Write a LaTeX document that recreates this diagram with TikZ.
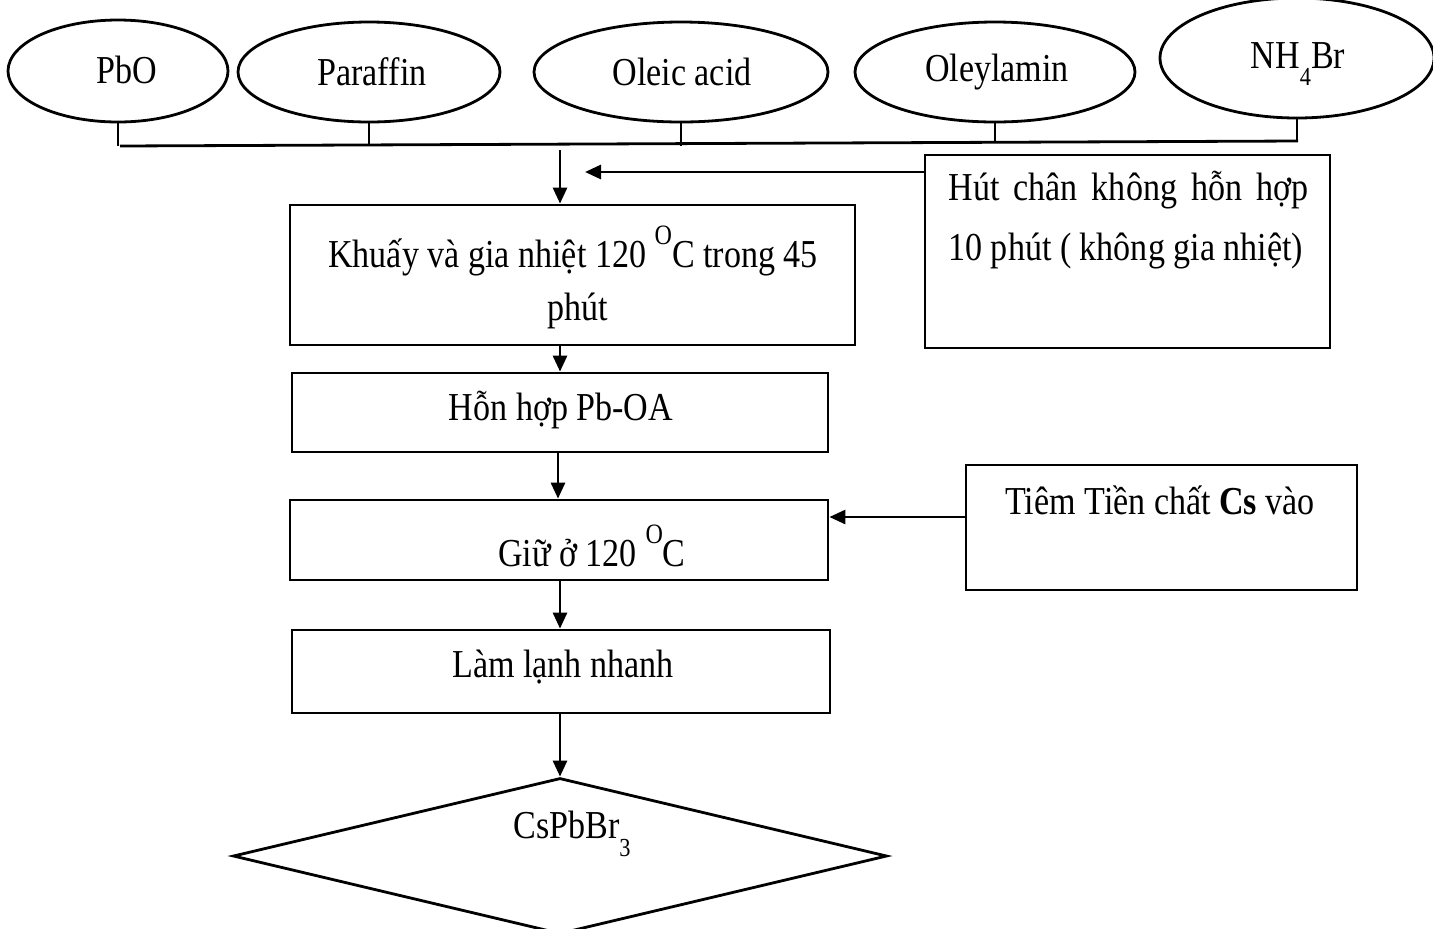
\documentclass[tikz,border=0pt]{standalone}
\usepackage{fontspec}
\setmainfont{Liberation Serif}[FakeStretch=0.86]
\usetikzlibrary{arrows.meta,shapes.geometric,fit}
\begin{document}
\begin{tikzpicture}[x=0.5pt,y=-0.5pt,
  line width=1.4pt,
  font=\fontsize{19.8}{30}\selectfont,
  reagent/.style={draw,ellipse,inner sep=0pt},
  stepbox/.style={draw,rectangle,inner sep=0pt},
  txt/.style={inner sep=0pt,align=center},
  arr/.style={-{Triangle[length=8pt,width=7pt]}}]
\clip (0,0) rectangle (1433,928);
\useasboundingbox (0,0) rectangle (1433,928);

% starting materials
\node[reagent,minimum width=110pt,minimum height=51pt] (pbo) at (118,71) {};
\node[reagent,minimum width=131pt,minimum height=50pt] (par) at (369,72) {};
\node[reagent,minimum width=147pt,minimum height=50pt] (ole) at (681,72) {};
\node[reagent,minimum width=140pt,minimum height=50pt] (oam) at (995,72) {};
\node[reagent,minimum width=137pt,minimum height=60pt] (nh) at (1297,58) {};
\node[txt] (tpbo) at (127,70) {PbO};
\node[txt] (tpar) at (372,72) {Paraffin};
\node[txt] (tole) at (682,72) {Oleic acid};
\node[txt] (toam) at (997,72) {Oleylamin};
\node[txt] (tnh) at (1298,64) {NH\raisebox{-0.9ex}{\fontsize{13}{14}\selectfont 4}Br};

% collecting line
\coordinate (jl) at (120,146);
\coordinate (jr) at (1298,141);
\draw (pbo.south) -- (pbo.south |- jl);
\draw (par.south) -- (par.south |- jl);
\draw (ole.south) -- (ole.south |- jl);
\draw (oam.south) -- (oam.south |- jr);
\draw (nh.south) -- (nh.south |- jr);
\draw (jl) -- (jr);
\coordinate (jm) at (560,150);

% process steps
\node[stepbox,fit={(290,205)(855,345)}] (stir) {};
\node[txt] (tstir1) at (573,251) {Khuấy và gia nhiệt 120 \raisebox{1.3ex}{\fontsize{14}{15}\selectfont O}C trong 45};
\node[txt] (tstir2) at (578,311) {phút};

\node[stepbox,fit={(925,155)(1330,348)}] (vac) {};
\node[txt,text width=180pt,align=justify,anchor=north west] (tvac) at (947,170)
  {Hút chân không hỗn hợp 10 phút ( không gia nhiệt)};

\node[stepbox,fit={(292,373)(828,452)}] (mix) {};
\node[txt] (tmix) at (561,410) {Hỗn hợp Pb-OA};

\node[stepbox,fit={(290,500)(828,580)}] (hold) {};
\node[txt] (thold) at (592,546) {Giữ ở 120 \raisebox{1.3ex}{\fontsize{14}{15}\selectfont O}C};

\node[stepbox,fit={(966,465)(1357,590)}] (inj) {};
\node[txt] (tinj) at (1160,500) {Tiêm Tiền chất \textbf{Cs} vào};

\node[stepbox,fit={(292,630)(830,713)}] (cool) {};
\node[txt] (tcool) at (563,667) {Làm lạnh nhanh};

\node[draw,diamond,inner sep=0pt,minimum width=327pt,minimum height=78pt] (prod) at (560,856) {};
\node[txt] (tprod) at (572,834) {CsPbBr\raisebox{-1.0ex}{\fontsize{13}{14}\selectfont 3}};

% flow arrows
\coordinate (vend) at (585,172);
\draw[arr] (jm) -- (jm |- stir.north);
\draw[arr] (vac.west |- vend) -- (vend);
\draw[arr] (stir.south -| jm) -- (mix.north -| jm);
\draw[arr] (mix.south -| 558,0) -- (hold.north -| 558,0);
\coordinate (iy) at (0,517);
\draw[arr] (inj.west |- iy) -- (hold.east |- iy);
\draw[arr] (hold.south -| 560,0) -- (cool.north -| 560,0);
\draw[arr] (cool.south -| 560,0) -- (prod.north);
\end{tikzpicture}
\end{document}
